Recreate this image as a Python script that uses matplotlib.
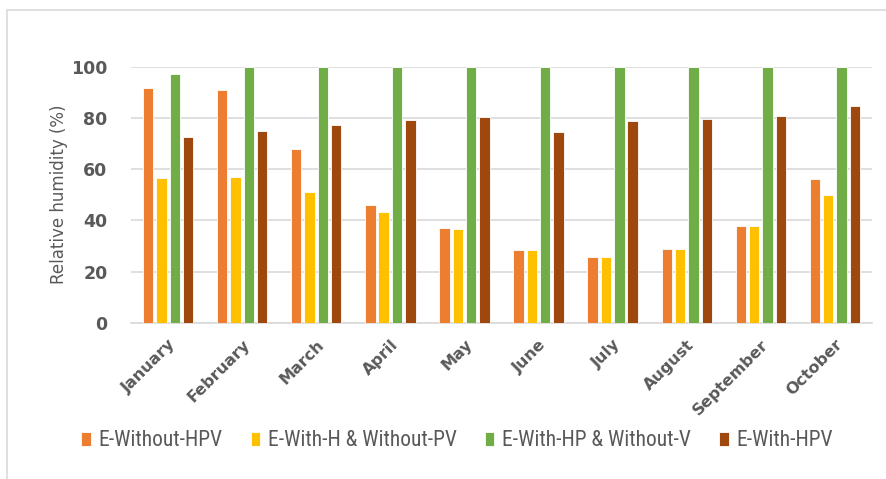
import matplotlib
matplotlib.use("Agg")
import matplotlib.pyplot as plt
import numpy as np
from matplotlib.patches import Rectangle
from matplotlib import font_manager

months = ["January", "February", "March", "April", "May", "June",
          "July", "August", "September", "October"]
series_names = ["E-Without-HPV", "E-With-H & Without-PV",
                "E-With-HP & Without-V", "E-With-HPV"]
without_hpv = [91.6, 90.8, 67.8, 46.0, 36.9, 28.4, 25.9, 29.0, 37.8, 56.1]
with_h = [56.6, 57.0, 51.2, 43.3, 36.5, 28.4, 25.9, 29.0, 37.8, 50.0]
with_hp = [97.2, 100, 100, 100, 100, 100, 100, 100, 100, 100]
with_hpv = [72.6, 75.0, 77.1, 79.3, 80.2, 74.5, 78.8, 79.7, 80.8, 84.5]
yticks = [0, 20, 40, 60, 80, 100]

colors = ["#ED7D31", "#FFC000", "#70AD47", "#9E480E"]
txt = "#595959"

names = {f.name for f in font_manager.fontManager.ttflist}
narrow = None
for cand in ["Liberation Sans Narrow", "Roboto Condensed", "Open Sans Condensed",
             "DejaVu Sans Condensed"]:
    if cand in names:
        narrow = cand
        break

fig = plt.figure(figsize=(8.86, 4.79), dpi=100)
ax = fig.add_axes([131/886, 1-323/479, (872-131)/886, (323-66.5)/479])

x = np.arange(len(months))
pitch = 0.18
width = 0.14
data = [without_hpv, with_h, with_hp, with_hpv]
for i, (vals, name, c) in enumerate(zip(data, series_names, colors)):
    ax.bar(x + (i - 1.5) * pitch, vals, width, color=c, label=name,
           edgecolor="white", linewidth=0.6, zorder=3)

ax.set_xlim(-0.5, len(months) - 0.5)
ax.set_ylim(0, 100)
ax.set_yticks(yticks)
ax.set_yticklabels([str(v) for v in yticks], fontsize=12.5, fontweight="bold", color=txt)
ax.set_xticks(x)
ax.set_xticklabels(months, rotation=45, ha="right", rotation_mode="anchor",
                   fontsize=11.5, fontweight="bold", color=txt)
ax.tick_params(axis="both", length=0)
ax.tick_params(axis="y", pad=17)
ax.tick_params(axis="x", pad=10)
ax.grid(axis="y", color="#D9D9D9", linewidth=1.2, zorder=0)
for s in ["top", "right", "left"]:
    ax.spines[s].set_visible(False)
ax.spines["bottom"].set_color("#D9D9D9")
ax.spines["bottom"].set_linewidth(1.2)
ax.set_ylabel("Relative humidity (%)", fontsize=12, color=txt)
ax.yaxis.set_label_coords(-(131-68)/741, 0.5)

if narrow:
    prop = {"family": [narrow, "DejaVu Sans"], "size": 15.5}
else:
    prop = {"family": ["DejaVu Sans"], "size": 13, "stretch": "condensed"}
leg = fig.legend(loc="center", bbox_to_anchor=(457/886, 1-441/479), ncol=4,
                 frameon=False, handlelength=0.45, handleheight=0.6,
                 handletextpad=0.35, columnspacing=1.3, prop=prop,
                 borderpad=0, borderaxespad=0)
for t in leg.get_texts():
    t.set_color(txt)

fig.patches.append(Rectangle((7/886, -0.05), 1.1, 1 - 9.5/479 + 0.05,
                             transform=fig.transFigure, fill=False,
                             edgecolor="#D9D9D9", linewidth=1.2))

fig.savefig("out.png", dpi=100, facecolor="white")
